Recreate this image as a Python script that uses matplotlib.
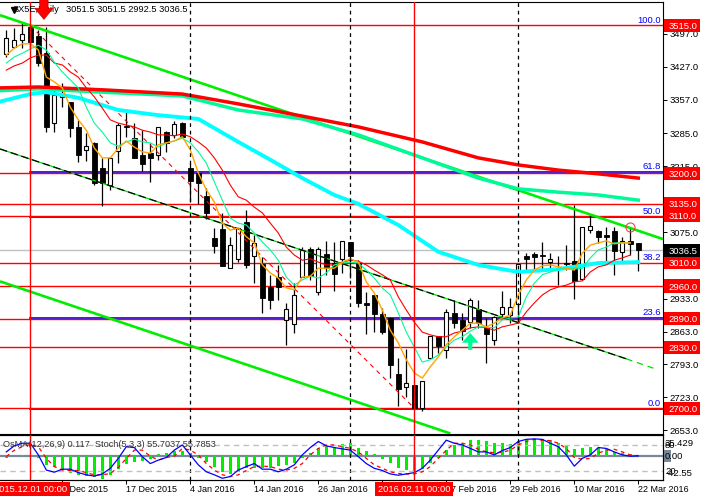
import matplotlib
matplotlib.use("Agg")
import matplotlib.pyplot as plt
import numpy as np
from matplotlib.patches import Rectangle
from matplotlib.transforms import blended_transform_factory

plt.rcParams["font.family"] = ["Liberation Sans", "DejaVu Sans"]

# daily candles, open high low close
opens = [3454,3469,3484,3512,3493,3456,3307,3363,3352,3299,3250,3265,3212,3175,3248,3301,3275,3239,3243,3239,
         3288,3282,3307,3212,3201,3152,3062,3082,2998,3018,3096,3024,3007,2958,2979,2888,2879,2979,3039,2947,
         3028,3009,3018,3054,3009,2924,2941,2900,2892,2773,2745,2749,2700,2807,2854,2824,2903,2888,2883,2911,
         2871,2845,2900,2898,2922,3024,3028,3026,3011,2999,3009,3013,2975,3080,3077,3069,3077,3033,3056,3051.5]
highs = [3505,3510,3520,3516,3505,3512,3384,3392,3352,3314,3286,3267,3233,3235,3307,3335,3307,3292,3265,3299,
         3290,3312,3309,3222,3201,3169,3084,3116,3065,3084,3122,3069,3022,2984,3005,2924,2966,3043,3043,3043,
         3056,3054,3056,3054,3015,2947,2941,2913,2894,2807,2826,2749,2758,2854,2854,2911,2930,2903,2935,2930,
         2892,2896,2949,2935,3007,3030,3033,3054,3030,3024,3047,3133,3086,3111,3079,3086,3086,3065,3086,3051.5]
lows = [3448,3467,3467,3467,3429,3288,3288,3341,3278,3224,3226,3175,3131,3165,3222,3278,3233,3205,3182,3229,
        3246,3275,3275,3139,3135,3103,3030,3003,2998,3011,2998,2966,2903,2911,2930,2835,2860,2979,2973,2941,
        2984,2949,2988,2977,2915,2858,2862,2858,2764,2705,2724,2696,2694,2807,2817,2807,2871,2845,2871,2871,
        2796,2835,2892,2881,2881,2994,2994,2994,2994,2962,2994,2932,2973,3073,3052,3011,2984,3011,3026,2992.5]
closes = [3488,3484,3497,3480,3435,3299,3367,3367,3297,3239,3258,3180,3180,3233,3303,3299,3233,3220,3233,3299,
          3265,3305,3278,3184,3180,3116,3045,3003,3047,3084,3005,3052,2935,2930,2958,2911,2941,3037,2981,3039,
          2998,2986,3056,3024,2924,2920,2900,2862,2792,2741,2754,2700,2758,2854,2832,2905,2881,2864,2930,2881,
          2858,2894,2915,2915,3007,3018,3022,3024,3018,2996,3007,2971,3086,3088,3065,3065,3035,3056,3050,3036.5]

# short moving averages, one value per candle
ma_orange = [3452,3467,3476,3476,3463,3405,3395,3382,3341,3314,3292,3254,3233,3233,3254,3269,3256,3246,3243,3261,
             3265,3269,3278,3250,3201,3165,3139,3094,3079,3084,3065,3052,3005,2988,2977,2956,2952,2979,2981,2998,
             2998,2998,3011,3018,3011,2969,2945,2909,2866,2839,2803,2775,2764,2788,2809,2835,2852,2866,2881,2881,
             2873,2881,2892,2898,2941,2973,2994,3003,3005,3001,2998,2994,3030,3047,3052,3056,3050,3052,3052]
ma_spring = [3435,3448,3456,3465,3473,3463,3437,3416,3399,3382,3341,3307,3288,3265,3258,3267,3273,3267,3265,3256,
             3265,3269,3275,3265,3246,3222,3182,3143,3105,3094,3090,3073,3054,3037,3015,2979,2962,2973,2981,2977,
             2988,3005,3009,3011,3009,2994,2977,2956,2941,2903,2862,2830,2798,2803,2813,2830,2845,2852,2864,2873,
             2873,2871,2888,2892,2894,2937,2966,2984,2990,2996,2998,2996,2998,3020,3037,3043,3052,3052,3052]
ma_red = [3420,3429,3435,3446,3452,3452,3435,3431,3416,3405,3382,3363,3339,3314,3307,3303,3299,3292,3288,3282,
          3282,3280,3284,3278,3267,3254,3233,3207,3175,3150,3143,3128,3116,3094,3073,3043,3026,3015,3018,3011,
          3005,3005,3011,3015,3013,3005,2994,2984,2973,2937,2909,2883,2862,2856,2852,2852,2860,2864,2871,2873,
          2871,2866,2873,2877,2881,2905,2924,2941,2952,2958,2962,2969,2971,2990,3001,3005,3015,3020,3026]

# long moving averages, read at a few candles
long_idx = [-1,4,12,22,29,37,44,52,59,64,69,74,79]
ma_long_red = [3382,3384,3378,3369,3348,3322,3299,3267,3233,3218,3207,3199,3190]
ma_long_green = [3376,3380,3373,3365,3335,3316,3282,3233,3190,3167,3160,3154,3143]
aqua_idx = [-1,3,5,9,14,19,24,29,33,37,41,44,49,54,59,64,69,74,79]
ma_aqua = [3352,3369,3373,3361,3335,3324,3316,3267,3229,3190,3154,3135,3090,3033,3005,2990,2996,3009,3011]

# lower panel
osma = [-5,0,2.5,1,-5,-23,-27,-36,-42,-48,-51,-54,-59,-48,-33,-20,-15,-13,-8,5,
        7,13,13,7,-5,-15,-27,-40,-46,-40,-31,-31,-31,-31,-26,-23,-19,-5,7,20,
        26,21,30,32,20,13,5,-8,-17,-30,-36,-37,-34,-19,-5,15,28,34,41,41,
        37,34,32,30,37,43,44,43,41,34,28,18,20,23,21,17,11,8,5,0.117]
stoch_main = [65,79,85,85,58,23,18,25,25,17,12,9,14,27,50,77,75,54,38,46,
              52,69,81,58,35,19,12,4,8,23,31,38,25,25,19,25,35,58,75,89,
              79,75,72,69,54,38,27,22,14,11,14,17,27,46,69,92,85,81,73,65,
              65,58,68,75,89,94,95,94,85,77,58,32,50,58,75,73,65,58,55,55.7]
stoch_signal = [54,69,77,82,77,50,31,23,22,22,17,12,12,15,29,50,69,69,55,46,
                52,55,73,69,58,38,23,12,8,12,22,31,32,31,25,23,27,38,58,73,
                81,81,77,73,65,50,35,27,19,15,14,14,19,31,50,69,85,85,81,71,
                65,63,64,69,81,89,94,92,91,85,73,52,48,50,62,69,71,65,58,55.8]

# levels and labels
red_levels = [3515,3200,3135,3110,3010,2960,2890,2830,2700]
fib_pct = ["100.0","61.8","50.0","38.2","23.6","0.0"]
fib_prices = [3515,3203.7,3107.5,3010,2892.3,2698.5]
price_ticks = [3497,3427,3357,3285,3215,3145,3075,3005,2933,2863,2793,2723,2653]
last_price = 3036.5
date_idx = [7,15,23,31,39,47,55,63,71,79]
date_labels = ["9 Dec 2015","17 Dec 2015","4 Jan 2016","14 Jan 2016","26 Jan 2016","4 Feb 2016",
               "17 Feb 2016","29 Feb 2016","10 Mar 2016","22 Mar 2016"]
red_marks = [3,51]
red_mark_labels = ["2015.12.01 00:00","2016.02.11 00:00"]
month_starts = [23,43,64]

opens, highs, lows, closes = map(np.array, (opens, highs, lows, closes))
idx = np.arange(len(opens))
W, H = 701, 500
FS = 6.8

fig = plt.figure(figsize=(W/100, H/100), dpi=100, facecolor="white")
ax = fig.add_axes([0, 1-433.5/H, 663/W, 431.5/H])
ax2 = fig.add_axes([0, 1-480/H, 663/W, 45/H])
xlim = (-0.79, 82.09)

#main panel - levels
ax.axhline(last_price, color="#c0c0c0", lw=1, zorder=1)
for p in fib_prices:
    if p in red_levels:
        continue
    ax.plot([3, 90], [p, p], color="#0000ff", lw=1.2, zorder=1.2)
for p in red_levels:
    ax.axhline(p, color="#ff0000", lw=1, zorder=1.4)

#candles
ax.vlines(idx, lows, highs, color="black", lw=0.9, zorder=2)
up = closes >= opens
ax.bar(idx[up], (closes-opens)[up], bottom=opens[up], width=0.5, facecolor="white", edgecolor="black", lw=0.8, zorder=2.1)
ax.bar(idx[~up], (closes-opens)[~up], bottom=opens[~up], width=0.6, facecolor="black", edgecolor="black", lw=0.6, zorder=2.1)

#trend lines
ax.plot([-0.79, 82.09], [3537, 3060], color="#00ee00", lw=1.9, zorder=3, solid_capstyle="butt")
ax.plot([-0.79, 55.5], [2970, 2646], color="#00ee00", lw=1.9, zorder=3, solid_capstyle="butt")
ax.plot([-0.79, 77.5], [3252, 2805], color="#00dd00", lw=0.9, zorder=3)
ax.plot([77.5, 80.9], [2805, 2785], color="#00dd00", lw=0.9, ls=(0, (5, 4)), zorder=3)
ax.plot([-0.79, 77.5], [3252, 2805], color="black", lw=0.9, ls=(0, (6, 3)), zorder=3.1)
ax.plot([3, 51], [3515, 2700], color="#ff0000", lw=0.8, ls=(0, (4, 4)), zorder=3)

#moving averages
ax.plot(long_idx, ma_long_red, color="#ff0000", lw=2.5, zorder=3.4)
ax.plot(long_idx, ma_long_green, color="#00fa9a", lw=2.5, zorder=3.3)
ax.plot(aqua_idx, ma_aqua, color="#00ffff", lw=2.8, zorder=3.3)
ax.plot(range(len(ma_red)), ma_red, color="#ff0000", lw=0.8, zorder=3.5)
ax.plot(range(len(ma_spring)), ma_spring, color="#00fa9a", lw=0.8, zorder=3.5)
ax.plot(range(len(ma_orange)), ma_orange, color="#ffa500", lw=1, zorder=3.6)

#marks
ax.annotate("", xy=(4.7, 3528), xytext=(4.7, 3575), zorder=6, annotation_clip=False,
            arrowprops=dict(facecolor="#ff0000", edgecolor="#cc0000", width=6, headwidth=13, headlength=8, shrink=0, lw=0.5))
ax.annotate("", xy=(58, 2860), xytext=(58, 2824), zorder=6,
            arrowprops=dict(facecolor="#00fa9a", edgecolor="#00fa9a", width=3, headwidth=12, headlength=7, shrink=0, lw=0))
ax.plot([78], [3086], "o", mfc="none", mec="#ff4040", ms=6.5, mew=0.8, zorder=6)

for x in month_starts:
    ax.axvline(x, color="black", lw=0.9, ls=(0, (3, 3)), zorder=4)
    ax2.axvline(x, color="black", lw=0.9, ls=(0, (3, 3)), zorder=1)
for x in red_marks:
    ax.axvline(x, color="#ff0000", lw=1, zorder=4)
    ax2.axvline(x, color="#ff0000", lw=1, zorder=5)

ax.set_xlim(xlim)
ax.set_ylim(3569.3-2.13*433.5, 3569.3-2.13*2)
ax.set_xticks([])
ax.yaxis.tick_right()
ax.set_yticks(price_ticks)
ax.set_yticklabels(["%.1f" % v for v in price_ticks], fontsize=FS)
ax.tick_params(axis="y", length=3, width=0.7, pad=1.5)
ax.spines["left"].set_visible(False)

# fib labels and price tags
tr = blended_transform_factory(ax.transAxes, ax.transData)
for lab, p in zip(fib_pct, fib_prices):
    ax.text(0.997, p+2, lab, color="#0000ff", ha="right", va="bottom", fontsize=FS, transform=tr, zorder=6)
right = (W-1)/663
for p in red_levels + [last_price]:
    col = "black" if p == last_price else "#ff0000"
    ax.add_patch(Rectangle((1.0015, p-14), right-1.0015, 28, facecolor=col, edgecolor="none", transform=tr, clip_on=False, zorder=7))
    ax.text(1.008, p, "%.1f" % p, color="white", ha="left", va="center_baseline", fontsize=FS, transform=tr, clip_on=False, zorder=8)

# header
ax.plot([1.0], [3548], "v", color="black", ms=5, zorder=6)
ax.text(13/663, 0.983, "SX5E,Daily", fontsize=6.7, transform=ax.transAxes, ha="left", va="center", zorder=5)
ax.text(66/663, 0.983, "3051.5 3051.5 2992.5 3036.5", fontsize=6.7, transform=ax.transAxes, ha="left", va="center", zorder=5)

#lower panel
ax2.axhline(80, color="#c0c0c0", lw=1, ls=(0, (4, 3)), zorder=1)
ax2.axhline(20, color="#c0c0c0", lw=1, ls=(0, (4, 3)), zorder=1)
ax2.plot(range(len(stoch_signal)), stoch_signal, color="#ff0000", lw=0.9, ls=(0, (3, 3)), zorder=4)
ax2.plot(range(len(stoch_main)), stoch_main, color="#0000ff", lw=0.9, zorder=4.1)
ax2.set_xlim(xlim)
ax2.set_ylim(0, 104)
ax2.patch.set_alpha(0)
ax2.spines["left"].set_visible(False)
ax2.set_yticks([])
ax2.set_xticks(date_idx)
ax2.set_xticklabels([])
ax2.tick_params(axis="x", length=3, width=0.7)
ax3 = ax2.twinx()
ax3.axhline(0, color="#778899", lw=1.6, zorder=1)
ax3.bar(idx, osma, width=0.4, color="#00ee00", zorder=2)
ax3.set_ylim(-61, 53.5)
ax3.set_zorder(ax2.get_zorder()-1)
ax3.spines["left"].set_visible(False)
ax3.set_yticks([35.429, 0, -42.55])
ax3.set_yticklabels(["35.429", "", "-42.55"], fontsize=FS)
ax3.tick_params(axis="y", length=0, pad=1.5)
tr2 = blended_transform_factory(ax2.transAxes, ax2.transData)
tr3 = blended_transform_factory(ax3.transAxes, ax3.transData)
ax2.text(1.003, 80, "80", fontsize=FS, transform=tr2, va="center", clip_on=False)
ax2.text(1.003, 20, "20", fontsize=FS, transform=tr2, va="center", clip_on=False)
ax3.add_patch(Rectangle((1.001, -16), 0.011, 32, facecolor="#778899", edgecolor="none", transform=tr3, clip_on=False, zorder=3))
ax3.text(1.003, 0, "0.00", fontsize=FS, transform=tr3, va="center", clip_on=False, zorder=4)
ax2.text(0.004, 0.78, "OsMA(12,26,9) 0.117  Stoch(5,3,3) 55.7037 55.7853", fontsize=6.6, color="#333333",
         transform=ax2.transAxes, va="center", zorder=6)

# date labels
for x, lab in zip(date_idx, date_labels):
    ax2.annotate(lab, (x, 0), xycoords=("data", "axes fraction"), xytext=(-0.5, -6.6), textcoords="offset points",
                 fontsize=6.5, ha="left", va="center", annotation_clip=False)
for x, lab in zip(red_marks, red_mark_labels):
    ax2.annotate(lab, (x, 0), xycoords=("data", "axes fraction"), xytext=(0, -6.6), textcoords="offset points",
                 fontsize=6.7, color="white", ha="center", va="center", annotation_clip=False, zorder=9,
                 bbox=dict(facecolor="#ff0000", edgecolor="none", pad=2))

fig.savefig("out.png", dpi=100)
